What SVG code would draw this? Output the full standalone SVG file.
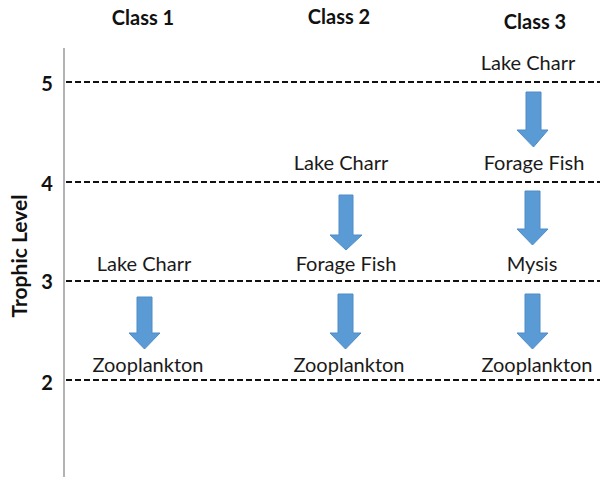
<svg xmlns="http://www.w3.org/2000/svg" width="600" height="477" viewBox="0 0 600 477">
<style>
.hdr{font-family:Lato,"Open Sans",sans-serif;font-weight:bold;font-size:20px;fill:#111;text-anchor:middle}
.num{font-family:Lato,"Open Sans",sans-serif;font-weight:bold;font-size:20px;fill:#111;text-anchor:middle}
.lbl{font-family:Lato,"Open Sans",sans-serif;font-size:20px;fill:#1a1a1a;text-anchor:middle}
.ax{font-family:Lato,"Open Sans",sans-serif;font-weight:bold;font-size:21px;fill:#111;text-anchor:middle}
.dash{stroke:#111;stroke-width:2;stroke-dasharray:6,3;fill:none}
.arrow{fill:#5b9bd5;stroke:#4f8cc6;stroke-width:1}
</style>
<rect width="600" height="477" fill="#fff"/>
<g id="axis">
<line x1="64" y1="48" x2="64" y2="477" stroke="#999" stroke-width="1.5"/>
<text class="ax" transform="translate(27,256) rotate(-90)">Trophic Level</text>
<text class="num" x="47" y="91">5</text>
<text class="num" x="47" y="191">4</text>
<text class="num" x="47" y="289">3</text>
<text class="num" x="47" y="390">2</text>
<line class="dash" x1="66" y1="82" x2="600" y2="82"/>
<line class="dash" x1="66" y1="182" x2="600" y2="182"/>
<line class="dash" x1="66" y1="281" x2="600" y2="281"/>
<line class="dash" x1="66" y1="380" x2="600" y2="380"/>
</g>
<g id="headers">
<text class="hdr" x="143" y="25">Class 1</text>
<text class="hdr" x="339" y="24">Class 2</text>
<text class="hdr" x="535" y="29">Class 3</text>
</g>
<g id="c1-lakecharr"><text class="lbl" x="144" y="271">Lake Charr</text></g>
<g id="c1-zoo"><text class="lbl" x="148" y="372">Zooplankton</text></g>
<g id="c2-lakecharr"><text class="lbl" x="341" y="170">Lake Charr</text></g>
<g id="c2-forage"><text class="lbl" x="346" y="271">Forage Fish</text></g>
<g id="c2-zoo"><text class="lbl" x="349" y="372">Zooplankton</text></g>
<g id="c3-lakecharr"><text class="lbl" x="528" y="70">Lake Charr</text></g>
<g id="c3-forage"><text class="lbl" x="534" y="170">Forage Fish</text></g>
<g id="c3-mysis"><text class="lbl" x="532" y="271">Mysis</text></g>
<g id="c3-zoo"><text class="lbl" x="537" y="372">Zooplankton</text></g>
<g id="connectors">
<path class="arrow" d="M137,297 H152 V333 H160 L144.5,349 L129,333 H137 Z"/>
<path class="arrow" d="M339,195 H353 V235 H362 L346,250 L330,235 H339 Z"/>
<path class="arrow" d="M338,294 H353 V333 H361 L345.5,349 L330,333 H338 Z"/>
<path class="arrow" d="M526,92 H541 V130 H548 L533.5,147 L517,130 H526 Z"/>
<path class="arrow" d="M525,191 H540 V229 H548 L532.5,245 L517,229 H525 Z"/>
<path class="arrow" d="M525,294 H540 V333 H548 L532.5,349 L517,333 H525 Z"/>
</g>
</svg>
